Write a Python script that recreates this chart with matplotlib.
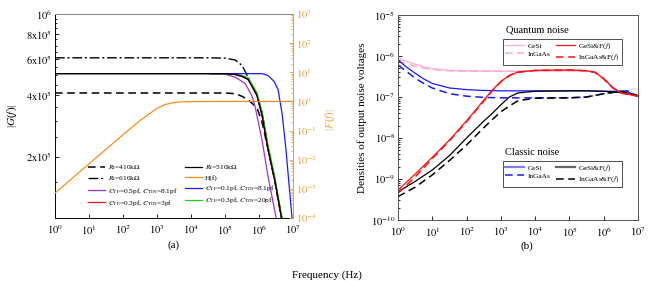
import numpy as np
import matplotlib
matplotlib.use('Agg')
import matplotlib.pyplot as plt
from matplotlib.ticker import FixedLocator, LogLocator, NullFormatter
from matplotlib.lines import Line2D

plt.rcParams['font.family'] = ['Liberation Serif', 'DejaVu Serif']
plt.rcParams['mathtext.fontset'] = 'stix'

# ---------------- data: panel (a) ----------------
# log10 frequency samples
lf_rf = [0, 4.5, 5.0, 5.3, 5.5, 5.68, 5.94, 6.09, 6.26, 6.47, 6.65, 6.72]
g_rf410 = [4.1e5, 4.1e5, 4.1e5, 4.07e5, 3.95e5, 3.8e5, 3.47e5, 2.95e5, 2.2e5, 1.5e5, 1.02e5, 0.9e5]
g_rf510 = [5.1e5, 5.1e5, 5.1e5, 5.06e5, 4.95e5, 4.78e5, 4.0e5, 3.2e5, 2.2e5, 1.52e5, 1.03e5, 0.91e5]
g_rf610 = [6.1e5, 6.1e5, 6.08e5, 5.95e5, 5.6e5, 4.9e5, 4.0e5, 3.3e5, 2.25e5, 1.53e5, 1.04e5, 0.92e5]

lf_c = [4.56, 5.0, 5.2, 5.45, 5.68, 5.94, 6.09, 6.26, 6.47, 6.65, 6.72]
g_red = [5.1e5, 5.1e5, 5.08e5, 4.97e5, 4.79e5, 3.98e5, 3.16e5, 2.19e5, 1.51e5, 1.02e5, 0.91e5]
g_green = [5.1e5, 5.1e5, 5.1e5, 5.02e5, 4.88e5, 4.12e5, 3.3e5, 2.3e5, 1.57e5, 1.06e5, 0.94e5]
lf_p = [4.56, 5.0, 5.3, 5.59, 5.79, 5.88, 6.09, 6.26, 6.47, 6.55]
g_purple = [5.1e5, 5.07e5, 4.9e5, 4.57e5, 3.98e5, 3.55e5, 2.4e5, 1.62e5, 1.07e5, 0.92e5]
lf_b = [4.56, 6.09, 6.26, 6.44, 6.56, 6.68, 6.79, 6.88, 6.97, 7.0]
g_blue = [5.1e5, 5.1e5, 5.0e5, 4.68e5, 4.27e5, 3.24e5, 2.19e5, 1.48e5, 1.01e5, 0.95e5]

lf_h = [0, 1, 2, 2.5, 3, 3.25, 3.5, 3.75, 4, 5, 6, 7]
h_f = [7.2e-4, 7.2e-3, 7.2e-2, 0.22, 0.58, 0.79, 0.92, 0.97, 0.99, 1.0, 1.0, 1.0]

# ---------------- data: panel (b) (log10 of noise density) ----------------
lf_q = [0, 0.25, 0.5, 0.75, 1.0, 1.5, 2.0, 3.0, 4.0, 5.0, 5.5, 5.75, 6.0, 6.25, 6.5, 7.0]
q_gesi = [-6.05, -6.13, -6.2, -6.26, -6.31, -6.35, -6.36, -6.37, -6.37, -6.36, -6.37, -6.40, -6.55, -6.76, -6.9, -6.98]
q_ingaas = [-6.12, -6.19, -6.25, -6.3, -6.33, -6.36, -6.37, -6.37, -6.37, -6.36, -6.37, -6.40, -6.55, -6.76, -6.9, -6.98]

lf_r = [0, 0.5, 1.0, 1.5, 2.0, 2.5, 2.75, 3.0, 3.25, 3.5, 4.0, 5.0, 5.5, 5.75, 6.0, 6.25, 6.5, 7.0]
q_gesi_f = [-9.27, -8.88, -8.47, -8.05, -7.58, -7.08, -6.83, -6.62, -6.47, -6.39, -6.35, -6.34, -6.36, -6.40, -6.55, -6.76, -6.9, -6.98]
q_ingaas_f = [-9.35, -8.95, -8.5, -8.07, -7.6, -7.1, -6.85, -6.63, -6.48, -6.4, -6.35, -6.34, -6.36, -6.40, -6.56, -6.77, -6.9, -6.98]

lf_cl = [0, 0.25, 0.5, 0.75, 1.0, 1.5, 2.0, 2.5, 3.0, 4.0, 5.0, 5.5, 6.0, 6.5, 6.7, 7.0]
c_gesi = [-6.10, -6.27, -6.42, -6.56, -6.67, -6.78, -6.82, -6.84, -6.85, -6.85, -6.85, -6.85, -6.86, -6.86, -6.88, -6.98]
c_ingaas = [-6.22, -6.38, -6.54, -6.67, -6.78, -6.92, -6.98, -7.01, -7.02, -7.02, -7.02, -7.0, -6.92, -6.86, -6.85, -6.98]

lf_k = [0, 0.5, 1.0, 1.5, 2.0, 2.5, 2.75, 3.0, 3.25, 3.5, 4.0, 5.0, 5.5, 6.0, 6.5, 7.0]
c_gesi_f = [-9.31, -9.06, -8.78, -8.43, -8.0, -7.59, -7.4, -7.19, -7.0, -6.9, -6.86, -6.85, -6.85, -6.86, -6.89, -6.97]
c_ingaas_f = [-9.43, -9.2, -8.9, -8.55, -8.17, -7.75, -7.55, -7.36, -7.22, -7.09, -7.03, -7.02, -7.0, -6.92, -6.86, -6.97]

x_ticks = [1e0, 1e1, 1e2, 1e3, 1e4, 1e5, 1e6, 1e7]
x_labels = ['$10^{%d}$' % i for i in range(8)]
g_ticks = [2e5, 4e5, 6e5, 8e5, 1e6]
g_labels = ['$2\\mathrm{x}10^5$', '$4\\mathrm{x}10^5$', '$6\\mathrm{x}10^5$', '$8\\mathrm{x}10^5$', '$10^6$']
f_ticks = [1e-4, 1e-3, 1e-2, 1e-1, 1e0, 1e1, 1e2, 1e3]
f_labels = ['$10^{%d}$' % i for i in range(-4, 4)]
n_ticks = [1e-10, 1e-9, 1e-8, 1e-7, 1e-6, 1e-5]
n_labels = ['$10^{%d}$' % i for i in range(-10, -4)]

ORANGE = '#ff8c1a'
ORANGE_T = '#f5a040'
PINK = '#ffaad4'
RED = '#ff1010'
BLUE = '#1a1aff'
LBLUE = '#8080ff'
PURPLE = '#a531d6'
GREEN = '#1ad61a'

def f(lf):
    return 10 ** np.asarray(lf, dtype=float)

def p(v):
    return 10 ** np.asarray(v, dtype=float)

fig = plt.figure(figsize=(6.54, 2.81), dpi=100)
W, H = 654, 281
ax1 = fig.add_axes([55 / W, 63 / H, 238 / W, 204 / H])
ax2 = ax1.twinx()
ax3 = fig.add_axes([398 / W, 61 / H, 240 / W, 205 / H])

TFS = 7.5
LW = 0.9

# ---- panel (a)
l410, = ax1.plot(f(lf_rf), g_rf410, color='black', lw=1.1, ls=(0, (5, 3)), label='$R_{\\rm f}$=410k$\\Omega$')
l610, = ax1.plot(f(lf_rf), g_rf610, color='black', lw=1.0, ls=(0, (7, 2, 1.5, 2)), label='$R_{\\rm f}$=610k$\\Omega$')
l510, = ax1.plot(f(lf_rf), g_rf510, color='black', lw=LW, label='$R_{\\rm f}$=510k$\\Omega$')
lpu, = ax1.plot(f(lf_p), g_purple, color=PURPLE, lw=LW, label='$C_{\\rm TF}$=0.5pf, $C_{\\rm TIN}$=8.1pf')
lre, = ax1.plot(f(lf_c), g_red, color=RED, lw=LW, label='$C_{\\rm TF}$=0.3pf, $C_{\\rm TIN}$=3pf')
lgr, = ax1.plot(f(lf_c), g_green, color=GREEN, lw=LW, label='$C_{\\rm TF}$=0.3pf, $C_{\\rm TIN}$=20pf')
lbl, = ax1.plot(f(lf_b), g_blue, color=BLUE, lw=LW, label='$C_{\\rm TF}$=0.1pf, $C_{\\rm TIN}$=8.1pf')
ax1.plot(f(lf_rf), g_rf510, color='black', lw=LW)
lh, = ax2.plot(f(lf_h), h_f, color=ORANGE, lw=LW, label='H(f)')

ax1.set_xscale('log'); ax1.set_yscale('log')
ax1.set_xlim(1, 1e7); ax1.set_ylim(1e5, 1e6)
ax2.set_yscale('log'); ax2.set_ylim(1e-4, 1e3)

ax1.xaxis.set_major_locator(FixedLocator(x_ticks))
ax1.set_xticklabels(x_labels)
ax1.xaxis.set_minor_locator(LogLocator(base=10, subs=np.arange(2, 10)))
ax1.xaxis.set_minor_formatter(NullFormatter())
ax1.yaxis.set_major_locator(FixedLocator(g_ticks))
ax1.set_yticklabels(g_labels)
ax1.yaxis.set_minor_locator(FixedLocator([1.5e5, 2.5e5, 3e5, 3.5e5, 4.5e5, 5e5, 5.5e5, 6.5e5, 7e5, 7.5e5, 8.5e5, 9e5, 9.5e5]))
ax1.yaxis.set_minor_formatter(NullFormatter())
ax2.yaxis.set_major_locator(FixedLocator(f_ticks))
ax2.set_yticklabels(f_labels)
ax2.yaxis.set_minor_locator(LogLocator(base=10, subs=np.arange(2, 10)))
ax2.yaxis.set_minor_formatter(NullFormatter())

for ax in (ax1, ax3):
    ax.tick_params(which='both', direction='in', labelsize=TFS, width=0.6, pad=2)
    ax.tick_params(axis='x', which='both', pad=4)
    ax.tick_params(which='major', length=3)
    ax.tick_params(which='minor', length=1.5)
ax1.tick_params(axis='y', which='both', right=False)
ax2.tick_params(which='both', direction='in', labelsize=TFS, width=0.6, colors=ORANGE_T, pad=2)
ax2.tick_params(which='major', length=3)
ax2.tick_params(which='minor', length=1.5)

ax1.spines['top'].set_color('#888888')
ax2.spines['top'].set_color('#888888')
ax2.spines['right'].set_color(ORANGE_T)
ax2.spines['left'].set_visible(False)
ax2.spines['bottom'].set_visible(False)
for s in ax1.spines.values():
    s.set_linewidth(0.7)
for s in ax2.spines.values():
    s.set_linewidth(0.7)

handles = [l410, l610, lpu, lre, l510, lh, lbl, lgr]
ax2.legend(handles=handles, loc='lower left', bbox_to_anchor=(0.14, 0.05), ncol=2,
           frameon=False, fontsize=5.3, handlelength=2.3, handletextpad=0.4,
           columnspacing=1.0, labelspacing=0.3, borderaxespad=0, borderpad=0)

fig.text(12 / W, 1 - 116 / H, '|$G$($f$)|', rotation=90, ha='center', va='center', fontsize=8)
fig.text(330 / W, 1 - 120 / H, '|$F$($f$)|', rotation=90, ha='center', va='center', fontsize=8, color=ORANGE_T)
fig.text(174 / W, 1 - 245 / H, '(a)', ha='center', va='center', fontsize=8)

# ---- panel (b)
ax3.plot(f(lf_q), p(q_gesi), color=PINK, lw=LW)
ax3.plot(f(lf_q), p(q_ingaas), color=PINK, lw=1.1, ls=(0, (5, 3)))
ax3.plot(f(lf_cl), p(c_gesi), color=BLUE, lw=LW)
ax3.plot(f(lf_cl), p(c_ingaas), color=BLUE, lw=1.1, ls=(0, (5, 3)))
ax3.plot(f(lf_k), p(c_gesi_f), color='black', lw=LW)
ax3.plot(f(lf_k), p(c_ingaas_f), color='black', lw=1.1, ls=(0, (5, 3)))
ax3.plot(f(lf_r), p(q_gesi_f), color=RED, lw=LW)
ax3.plot(f(lf_r), p(q_ingaas_f), color=RED, lw=1.1, ls=(0, (5, 3)))

ax3.set_xscale('log'); ax3.set_yscale('log')
ax3.set_xlim(1, 1e7); ax3.set_ylim(1e-10, 1e-5)
ax3.xaxis.set_major_locator(FixedLocator(x_ticks))
ax3.set_xticklabels(x_labels)
ax3.xaxis.set_minor_locator(LogLocator(base=10, subs=np.arange(2, 10)))
ax3.xaxis.set_minor_formatter(NullFormatter())
ax3.yaxis.set_major_locator(FixedLocator(n_ticks))
ax3.set_yticklabels(n_labels)
ax3.yaxis.set_minor_locator(LogLocator(base=10, subs=np.arange(2, 10)))
ax3.yaxis.set_minor_formatter(NullFormatter())
for s in ax3.spines.values():
    s.set_color('#555555'); s.set_linewidth(0.7)
ax3.set_ylabel('Densities of output noise voltages', fontsize=8, labelpad=3)

qh = [Line2D([], [], color=PINK, lw=LW), Line2D([], [], color=PINK, lw=1.1, ls=(0, (5, 3))),
      Line2D([], [], color=RED, lw=LW), Line2D([], [], color=RED, lw=1.1, ls=(0, (5, 3)))]
ql = ['GeSi', 'InGaAs', 'GeSi&F($\\it{f}$)', 'InGaAs&F($\\it{f}$)']
leg1 = ax3.legend(qh, ql, loc='upper left', bbox_to_anchor=(0.4375, 0.883), ncol=2,
                  fontsize=5.3, handlelength=2.6, handletextpad=0.4, columnspacing=0.8,
                  labelspacing=0.25, borderaxespad=0, borderpad=0.3, fancybox=False,
                  edgecolor='#333333', framealpha=1)
leg1.get_frame().set_linewidth(0.6)
ax3.add_artist(leg1)
ch = [Line2D([], [], color=LBLUE, lw=1.6), Line2D([], [], color=BLUE, lw=1.1, ls=(0, (5, 3))),
      Line2D([], [], color='#666666', lw=1.6), Line2D([], [], color='black', lw=1.1, ls=(0, (5, 3)))]
cl = ['GeSi', 'InGaAs', 'GeSi&F($\\it{f}$)', 'InGaAs&F($\\it{f}$)']
leg2 = ax3.legend(ch, cl, loc='upper left', bbox_to_anchor=(0.4375, 0.288), ncol=2,
                  fontsize=5.3, handlelength=2.6, handletextpad=0.4, columnspacing=0.8,
                  labelspacing=0.25, borderaxespad=0, borderpad=0.3, fancybox=False,
                  edgecolor='#333333', framealpha=1)
leg2.get_frame().set_linewidth(0.6)
ax3.text(0.45, 0.927, 'Quantum noise', transform=ax3.transAxes, fontsize=7.5, ha='left', va='center')
ax3.text(0.447, 0.327, 'Classic noise', transform=ax3.transAxes, fontsize=7.5, ha='left', va='center')

fig.text(527 / W, 1 - 246 / H, '(b)', ha='center', va='center', fontsize=8)
fig.text(327 / W, 1 - 275 / H, 'Frequency (Hz)', ha='center', va='center', fontsize=8)

fig.savefig('out.png', dpi=100)
